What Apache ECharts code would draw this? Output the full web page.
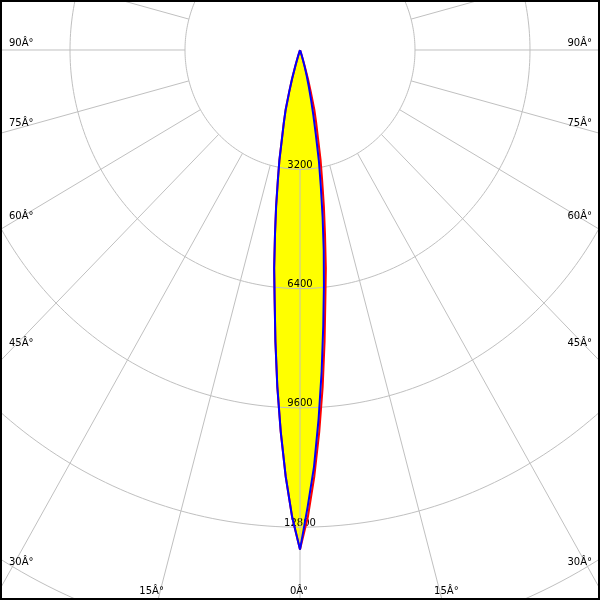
<!DOCTYPE html>
<html>
<head>
<meta charset="utf-8">
<script src="https://cdn.jsdelivr.net/npm/echarts@6/dist/echarts.min.js"></script>
<style>html,body{margin:0;padding:0;background:#fff}#c{width:600px;height:600px}</style>
</head>
<body>
<div id="c"></div>
<script>
// ---- data (gamma in degrees, intensity in cd) ----
const gammaDeg = [0,1,2,3,4,5,6,7,8,9,10,11,12,13,14,15,16,17,18,19,20,25,30,40,50,60,70,80,90];
const redC0    = [13400,12530,11440,10250,9050,7850,6750,5900,5000,4250,3550,3000,2400,2000,1650,1150,800,420,150,40,10,0,0,0,0,0,0,0,0];
const redC180  = [13400,12530,11440,10250,9050,7850,6750,5900,5000,4250,3550,3000,2400,2000,1650,1150,800,420,150,40,10,0,0,0,0,0,0,0,0];
const blueC90  = [13400,12250,11180,9900,8640,7425,6365,5420,4520,3700,3030,2300,1790,1355,1010,730,485,300,150,40,10,0,0,0,0,0,0,0,0];
const blueC270 = [13400,12530,11440,10250,9050,7850,6750,5900,5000,4250,3550,3000,2400,2000,1650,1150,800,420,150,40,10,0,0,0,0,0,0,0,0];
const ringValues = [3200,6400,9600,12800,16000];
const ringLabels = ['3200','6400','9600','12800','16000'];
const spokeAngles = [0,15,30,45,60,75,90,105,120,135,150,165,180,195,210,225,240,255,270,285,300,315,330,345];
const edgeAngles = [0,15,30,45,60,75,90];
const edgeLabels = ['0Â°','15Â°','30Â°','45Â°','60Â°','75Â°','90Â°'];

// axis extents (cd) – the plot is slightly narrower horizontally than vertically
const xExtent = [-8348, 8348];
const yExtent = [-14753, 1341];

const rad = d => d * Math.PI / 180;
function polarToXY(r, g, side) { return [side * r * Math.sin(rad(g)), -r * Math.cos(rad(g))]; }
function curve(leftVals, rightVals) {
  const pts = [];
  for (let i = gammaDeg.length - 1; i >= 0; i--) pts.push(polarToXY(leftVals[i], gammaDeg[i], -1));
  for (let i = 1; i < gammaDeg.length; i++) pts.push(polarToXY(rightVals[i], gammaDeg[i], 1));
  return pts;
}
const redPts = curve(redC180, redC0);
const bluePts = curve(blueC270, blueC90);

const GRID = '#c0c0c0';
const FONT = '10px "DejaVu Sans"';

const chart = echarts.init(document.getElementById('c'), null, {renderer: 'canvas'});
chart.setOption({
  animation: false,
  backgroundColor: '#ffffff',
  grid: {left: 0, right: 0, top: 0, bottom: 0},
  xAxis: {type: 'value', min: xExtent[0], max: xExtent[1], show: false},
  yAxis: {type: 'value', min: yExtent[0], max: yExtent[1], show: false},
  series: [
    { // yellow fill
      type: 'custom', z: 1, silent: true, data: [[0, 0]],
      renderItem: (p, api) => ({
        type: 'polygon',
        shape: {points: redPts.map(q => api.coord(q))},
        style: {fill: '#ffff00', stroke: null}
      })
    },
    { // ring labels
      type: 'custom', z: 2, silent: true, data: [[0, 0]],
      renderItem: (p, api) => ({
        type: 'group',
        children: ringValues.map((r, i) => {
          const c = api.coord(polarToXY(r, 0, 1));
          return {type: 'text', x: c[0], y: c[1] + 1,
            style: {text: ringLabels[i], fill: '#000', font: FONT, align: 'center', verticalAlign: 'bottom'}};
        })
      })
    },
    { // polar grid
      type: 'custom', z: 3, silent: true, data: [[0, 0]],
      renderItem: (p, api) => {
        const children = [];
        ringValues.forEach(r => {
          const pts = [];
          for (let a = 0; a <= 360; a += 1) pts.push(api.coord(polarToXY(r, a, 1)));
          children.push({type: 'polyline', shape: {points: pts}, style: {stroke: GRID, lineWidth: 1, fill: null}});
        });
        spokeAngles.forEach(a => {
          const p1 = api.coord(polarToXY(ringValues[0], a, 1));
          const p2 = api.coord(polarToXY(30000, a, 1));
          children.push({type: 'line', shape: {x1: p1[0], y1: p1[1], x2: p2[0], y2: p2[1]}, style: {stroke: GRID, lineWidth: 1}});
        });
        return {type: 'group', children};
      }
    },
    {
      type: 'line', z: 4, data: redPts, showSymbol: false, symbol: 'none', silent: true,
      lineStyle: {color: '#ff0000', width: 2}
    },
    {
      type: 'line', z: 5, data: bluePts, showSymbol: false, symbol: 'none', silent: true,
      lineStyle: {color: '#0000ff', width: 2}
    }
  ]
});

// angle labels where the angle rays meet the picture border
const W = chart.getWidth(), H = chart.getHeight();
const ctr = chart.convertToPixel({gridIndex: 0}, [0, 0]);
const gfx = [];
edgeAngles.forEach((a, i) => {
  const t = Math.tan(rad(a));
  const ySide = a === 0 ? Infinity : ctr[1] + ctr[0] / t;
  if (ySide < H) {
    gfx.push({type: 'text', x: 9, y: ySide - 2, z: 10,
      style: {text: edgeLabels[i], fill: '#000', font: FONT, align: 'left', verticalAlign: 'bottom'}});
    gfx.push({type: 'text', x: W - 8, y: ySide - 2, z: 10,
      style: {text: edgeLabels[i], fill: '#000', font: FONT, align: 'right', verticalAlign: 'bottom'}});
  } else {
    const dx = (H - ctr[1]) * t;
    const xs = a === 0 ? [ctr[0]] : [ctr[0] - dx, ctr[0] + dx];
    xs.forEach(x => gfx.push({type: 'text', x: x - 1, y: H - 4, z: 10,
      style: {text: edgeLabels[i], fill: '#000', font: FONT, align: 'center', verticalAlign: 'bottom'}}));
  }
});
gfx.push({type: 'rect', z: 20, shape: {x: 1, y: 1, width: W - 2, height: H - 2},
  style: {fill: null, stroke: '#000', lineWidth: 2}});
chart.setOption({graphic: gfx});
</script>
</body>
</html>
